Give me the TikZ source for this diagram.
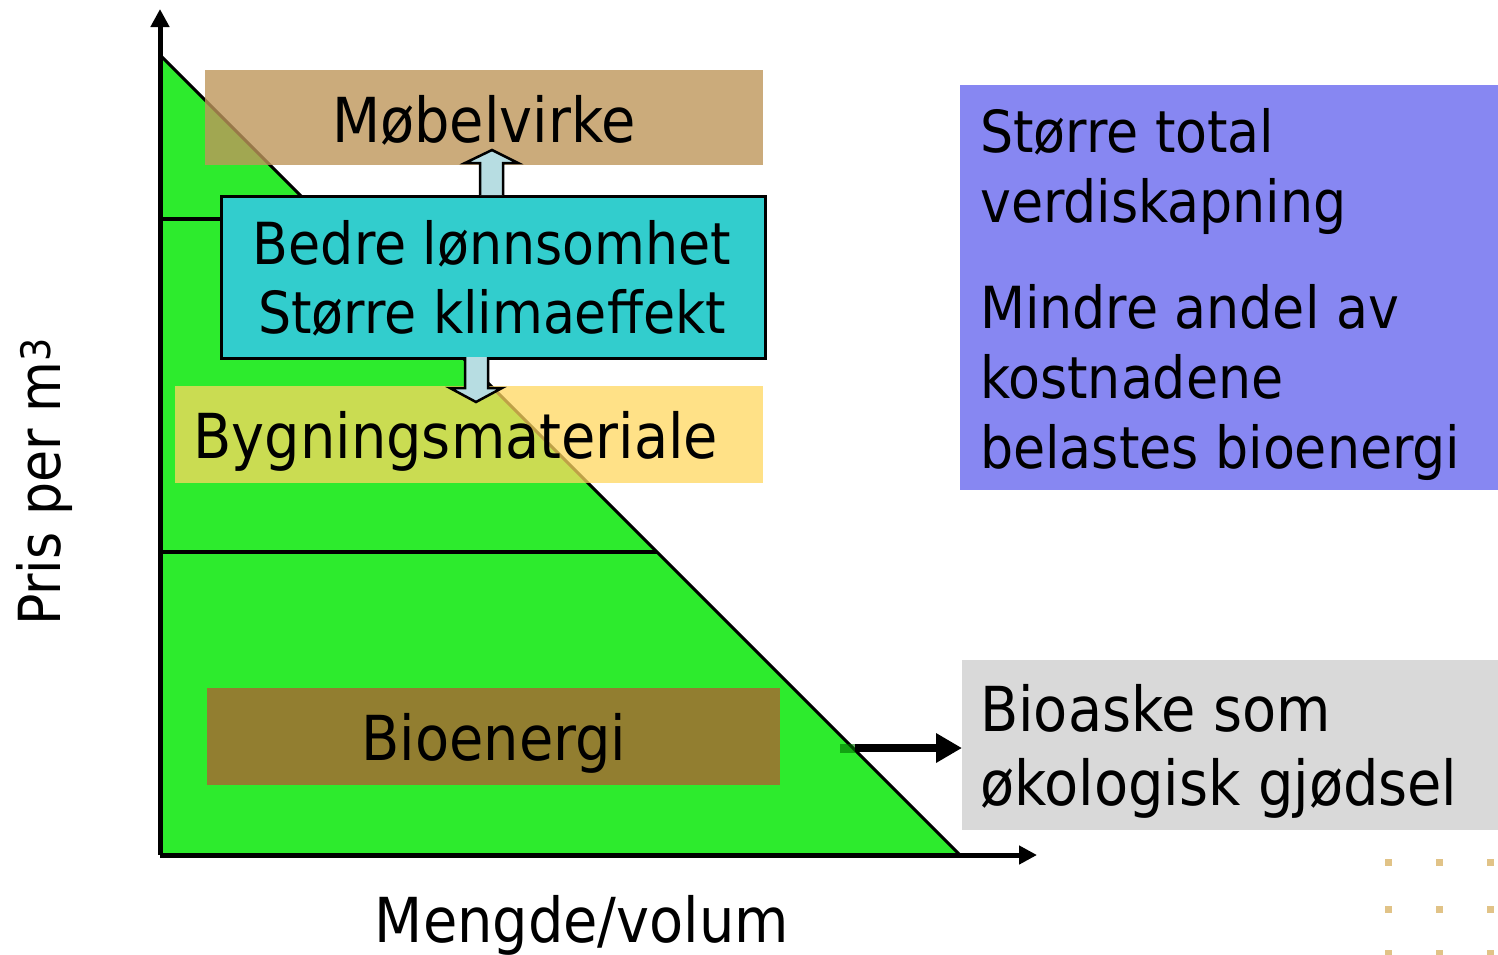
\documentclass[tikz,border=0pt]{standalone}
\usepackage{fontspec}
\setmainfont{DejaVu Sans Condensed}
\usetikzlibrary{arrows.meta}
\definecolor{tri}{RGB}{45,235,45}
\definecolor{mobel}{RGB}{190,150,90}
\definecolor{bygg}{RGB}{255,215,95}
\definecolor{bio}{RGB}{180,90,50}
\definecolor{teal}{RGB}{50,205,205}
\definecolor{arrowblue}{RGB}{183,221,226}
\definecolor{bluebox}{RGB}{135,135,242}
\definecolor{graybox}{RGB}{217,217,217}
\definecolor{dot}{RGB}{225,195,135}
\tikzset{
  big/.style={font=\fontsize{62}{70}\selectfont, inner sep=0pt},
  mid/.style={font=\fontsize{58}{70}\selectfont, inner sep=0pt},
  band/.style={inner sep=0pt, anchor=north west},
  axis/.style={line width=5pt, -{Triangle[length=18pt,width=18pt]}},
  blockarrow/.style={fill=arrowblue, draw=black, line width=2.5pt, line join=miter},
}
\begin{document}
\begin{tikzpicture}[x=1pt,y=-1pt]
\useasboundingbox (0,0) rectangle (1498,954);
% triangle
\fill[tri] (160,55) -- (960,855) -- (160,855) -- cycle;
\draw[line width=3.5pt] (160,219) -- (324,219);
\draw[line width=3.5pt] (160,552) -- (657,552);
\draw[line width=3pt] (160,55) -- (960,855);
% translucent bands
\node[band, fill=mobel, fill opacity=0.8, minimum width=558, minimum height=95] (mob) at (205,70) {};
\node[band, fill=bygg, fill opacity=0.75, minimum width=588, minimum height=97] (byg) at (175,386) {};
\node[band, fill=bio, fill opacity=0.75, minimum width=573, minimum height=97] (bio) at (207,688) {};
\node[big, anchor=base] (mobt) at (484,142) {Møbelvirke};
\node[big, anchor=base] (bygt) at (456,458) {Bygningsmateriale};
\node[big, anchor=base] (biot) at (494,760) {Bioenergi};
% axes
\coordinate (o) at (160,855);
\coordinate (ytip) at (160,9);
\coordinate (xtip) at (1037,855);
\draw[axis] (o) -- (ytip);
\draw[axis] (o) -- (xtip);
% teal box
\node[band, fill=teal, draw=black, line width=2.5pt, minimum width=544, minimum height=162] (teal) at (220,195) {};
\node[mid, anchor=base] (t1) at (492,264) {Bedre lønnsomhet};
\node[mid, anchor=base] (t2) at (492,333) {Større klimaeffekt};
% block arrows
\draw[blockarrow] (480,195) -- (480,163) -- (465,163) -- (492,150) -- (518,163) -- (503,163) -- (503,195);
\draw[blockarrow] (465,357) -- (465,388) -- (450,388) -- (476,402) -- (502,388) -- (488,388) -- (488,357);
% blue box
\node[band, fill=bluebox, minimum width=538, minimum height=405] (blue) at (960,85) {};
\node[mid, anchor=base west] (b1) at (980,152) {Større total};
\node[mid, anchor=base west] (b2) at (980,222) {verdiskapning};
\node[mid, anchor=base west] (b3) at (980,328) {Mindre andel av};
\node[mid, anchor=base west] (b4) at (980,398) {kostnadene};
\node[mid, anchor=base west] (b5) at (980,468) {belastes bioenergi};
% gray box
\node[band, fill=graybox, minimum width=536, minimum height=170] (gray) at (962,660) {};
\node[big, anchor=base west] (g1) at (980,731) {Bioaske som};
\node[big, anchor=base west] (g2) at (980,805) {økologisk gjødsel};
% arrow to gray box
\fill[green!45!black, opacity=0.6] (840,744) rectangle (856,753);
\coordinate (as) at (855,748);
\draw[line width=8pt, -{Triangle[length=26pt,width=28pt]}] (as) -- (gray.west |- as);
% axis labels
\node[big, anchor=base] (xl) at (582,942) {Mengde/volum};
\node[mid, anchor=base, rotate=90] (yl) at (60,482) {Pris per m\textsuperscript{3}};
% dots
\foreach \x in {1388,1439,1490}
  \foreach \y in {862,909,953}
    \fill[dot] (\x-3.5,\y-3.5) rectangle (\x+3.5,\y+3.5);
\end{tikzpicture}
\end{document}
